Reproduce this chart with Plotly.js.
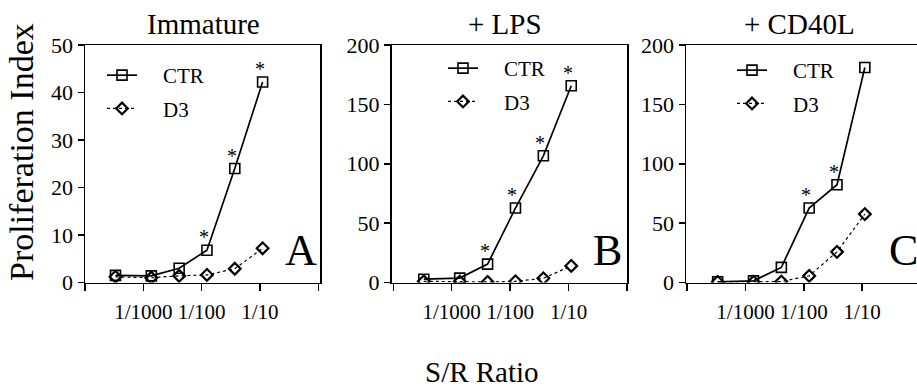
<!DOCTYPE html>
<html>
<head>
<meta charset="utf-8">
<script src="https://cdn.plot.ly/plotly-3.0.1.min.js"></script>
<style>html,body{margin:0;padding:0;background:#fff;}#chart{width:917px;height:387px;}</style>
</head>
<body>
<div id="chart"></div>
<script>
// S/R ratios (stimulator / responder)
const ratios = [1/3000, 1/729, 1/243, 1/81, 1/27, 1/9];
const tickVals = [0.0001, 0.001, 0.01, 0.1, 1];
const tickText = ['', '1/1000', '1/100', '1/10', ''];
const seriesNames = ['\u00a0\u00a0\u00a0\u00a0CTR', '\u00a0\u00a0\u00a0\u00a0D3'];
const panelTitles = ['Immature', '+ LPS', '+ CD40L'];
const panelLetters = ['A', 'B', 'C'];

// Proliferation index values
const immatureCTR = [1.5, 1.4, 3.0, 6.8, 24.0, 42.2];
const immatureD3  = [1.2, 1.0, 1.4, 1.6, 2.9, 7.2];
const lpsCTR      = [2.8, 3.7, 15.5, 62.7, 106.7, 165.7];
const lpsD3       = [1.0, 0.8, 0.5, 1.0, 3.5, 14.0];
const cd40lCTR    = [0.6, 1.4, 12.7, 62.7, 82.3, 181.1];
const cd40lD3     = [0.5, 0.5, 0.8, 5.6, 25.8, 57.6];

// indices of CTR points marked significant (*)
const immatureStars = [3, 4, 5];
const lpsStars      = [2, 3, 4, 5];
const cd40lStars    = [3, 4];

const yMax = [50, 200, 200];
const yTicks = [[0,10,20,30,40,50],[0,50,100,150,200],[0,50,100,150,200]];

const W = 917, H = 387;
const px = v => v / W;
const py = v => (H - v) / H;

const panels = [
  {ctr: immatureCTR, d3: immatureD3, stars: immatureStars, xd: [85, 320], xr: [-4, 0.03], mirrorY: true, leg: [102, 55], tc: 203, lc: 301},
  {ctr: lpsCTR, d3: lpsD3, stars: lpsStars, xd: [391.5, 627], xr: [-4.03, 0.0], mirrorY: true, leg: [443, 48], tc: 505, lc: 607},
  {ctr: cd40lCTR, d3: cd40lD3, stars: cd40lStars, xd: [686, 917], xr: [-4.02, -0.06], mirrorY: false, leg: [732, 50], tc: 799, lc: 903}
];

const font = 'Liberation Serif, Times New Roman, serif';
const traces = [];
const layout = {
  width: W, height: H,
  margin: {l: 0, r: 0, t: 0, b: 0},
  paper_bgcolor: '#fff', plot_bgcolor: '#fff',
  font: {family: font, color: '#000', size: 22},
  showlegend: true,
  annotations: [],
  hovermode: false
};

panels.forEach((p, i) => {
  const n = i === 0 ? '' : String(i + 1);
  const xa = 'x' + n, ya = 'y' + n;
  const legName = i === 0 ? 'legend' : 'legend' + (i + 1);
  traces.push({
    x: ratios, y: p.ctr, xaxis: xa, yaxis: ya, name: seriesNames[0],
    type: 'scatter', mode: 'lines+markers', legend: legName, legendgroup: 'c' + i,
    line: {color: '#000', width: 1.7},
    marker: {symbol: 'square-open', size: 10, color: '#000', line: {width: 1.6}}
  });
  traces.push({
    x: ratios, y: p.d3, xaxis: xa, yaxis: ya, name: seriesNames[1],
    type: 'scatter', mode: 'lines+markers', legend: legName, legendgroup: 'd' + i,
    line: {color: '#000', width: 1.2, dash: 'dot'},
    marker: {symbol: 'diamond-open', size: 9, color: '#000', line: {width: 2.2}}
  });
  layout['xaxis' + n] = {
    type: 'log', domain: [px(p.xd[0]), px(p.xd[1])], range: p.xr, anchor: ya,
    tickmode: 'array', tickvals: tickVals, ticktext: tickText,
    ticks: 'outside', ticklen: 7, tickwidth: 1.5, tickcolor: '#000',
    showline: true, linecolor: '#000', linewidth: 1.5, mirror: true,
    showgrid: false, zeroline: false, ticklabelstandoff: 3,
    tickfont: {family: font, size: 21, color: '#000'}
  };
  layout['yaxis' + n] = {
    domain: [py(282.5), py(45)], range: [0, yMax[i]], anchor: xa,
    tickmode: 'array', tickvals: yTicks[i],
    ticks: 'outside', ticklen: 6, tickwidth: 1.5, tickcolor: '#000',
    showline: true, linecolor: '#000', linewidth: 1.5, mirror: p.mirrorY,
    showgrid: false, zeroline: false,
    tickfont: {family: font, size: 22, color: '#000'}
  };
  layout[legName] = {
    x: px(p.leg[0]), y: py(p.leg[1]), xanchor: 'left', yanchor: 'top',
    bgcolor: 'rgba(0,0,0,0)', borderwidth: 0, tracegroupgap: 3,
    font: {family: font, size: 21, color: '#000'}, itemwidth: 30
  };
  // panel title
  layout.annotations.push({
    text: panelTitles[i], xref: 'paper', yref: 'paper',
    x: px(p.tc), y: py(24), xanchor: 'center', yanchor: 'middle',
    showarrow: false, font: {family: font, size: 29, color: '#000'}
  });
  // panel letter
  layout.annotations.push({
    text: panelLetters[i], xref: 'paper', yref: 'paper',
    x: px(p.lc), y: py(250), xanchor: 'center', yanchor: 'middle',
    showarrow: false, font: {family: font, size: 44, color: '#000'}
  });
  // significance stars
  p.stars.forEach(k => {
    layout.annotations.push({
      text: '*', xref: xa, yref: ya, x: Math.log10(ratios[k]), y: p.ctr[k],
      xanchor: 'center', yanchor: 'middle', xshift: -3, yshift: 13,
      showarrow: false, font: {family: font, size: 20, color: '#000'}
    });
  });
});

// shared axis titles
layout.annotations.push({
  text: 'Proliferation Index', xref: 'paper', yref: 'paper',
  x: px(22), y: py(152), xanchor: 'center', yanchor: 'middle', textangle: -90,
  showarrow: false, font: {family: font, size: 34, color: '#000'}
});
layout.annotations.push({
  text: 'S/R Ratio', xref: 'paper', yref: 'paper',
  x: px(482), y: py(372), xanchor: 'center', yanchor: 'middle',
  showarrow: false, font: {family: font, size: 29, color: '#000'}
});

Plotly.newPlot('chart', traces, layout, {staticPlot: true, displayModeBar: false});
</script>
</body>
</html>
